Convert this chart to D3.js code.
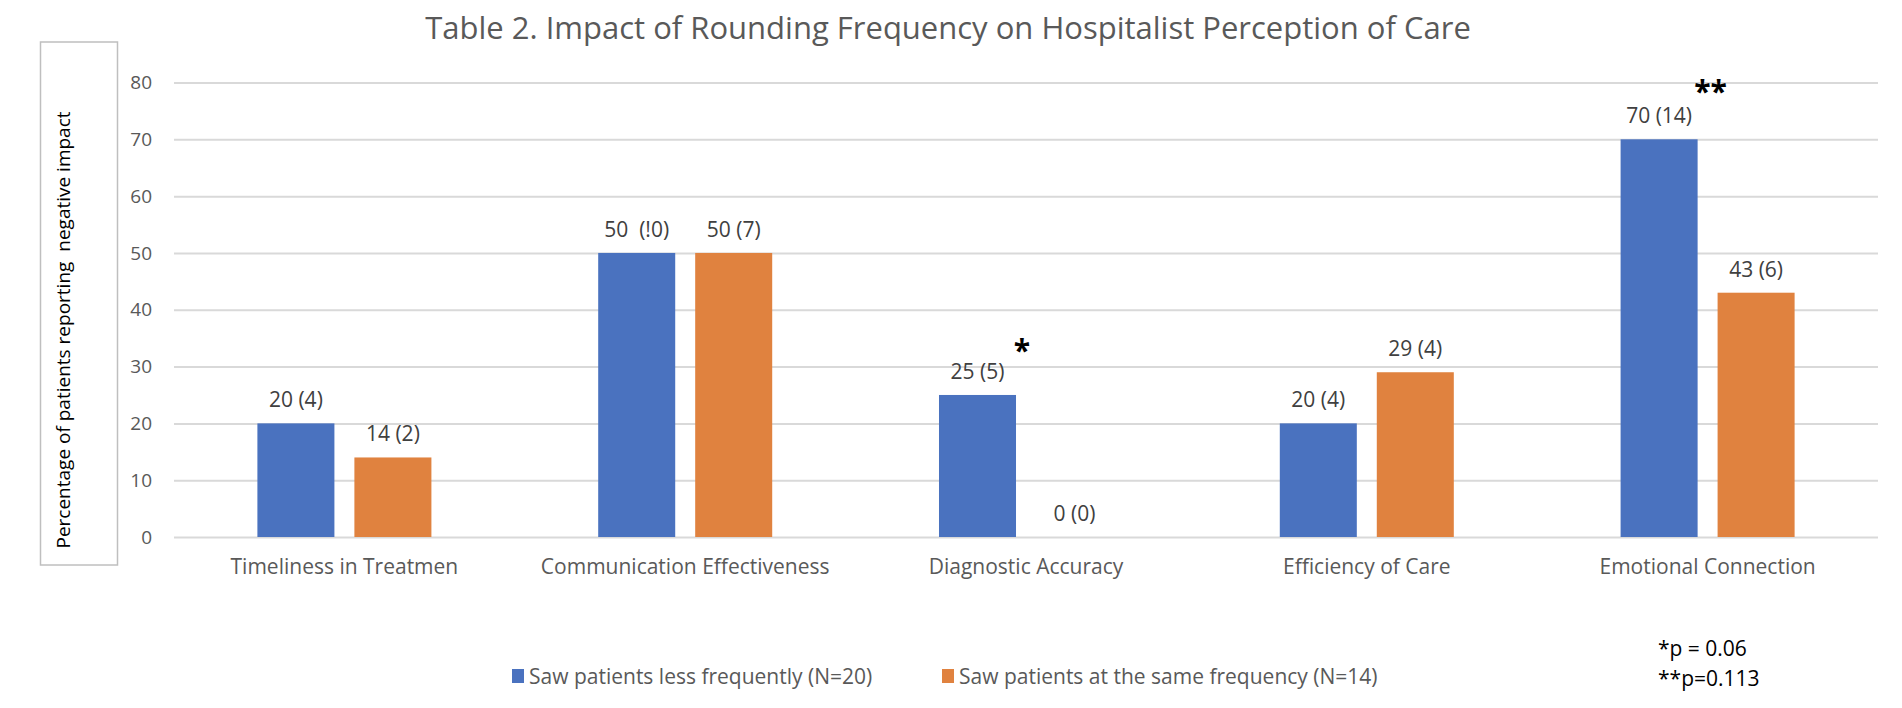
<!DOCTYPE html>
<html>
<head>
<meta charset="utf-8">
<script src="https://cdn.jsdelivr.net/npm/d3@7"></script>
<style>
  body { margin: 0; background: #fff; }
  text { font-family: "Open Sans", sans-serif; }
</style>
</head>
<body>
<div id="chart"></div>
<script>
const categories = ["Timeliness in Treatmen", "Communication Effectiveness", "Diagnostic Accuracy", "Efficiency of Care", "Emotional Connection"]
const series = ["Saw patients less frequently (N=20)", "Saw patients at the same frequency (N=14)"]
const lessValues = [20, 50, 25, 20, 70]
const sameValues = [14, 50, 0, 29, 43]
const lessLabels = ["20 (4)", "50  (!0)", "25 (5)", "20 (4)", "70 (14)"]
const sameLabels = ["14 (2)", "50 (7)", "0 (0)", "29 (4)", "43 (6)"]
const stars = [null, null, "*", null, "**"]
const yTicks = [0, 10, 20, 30, 40, 50, 60, 70, 80]
const notes = ["*p = 0.06", "**p=0.113"]
const colors = ["#4A72BF", "#E0823F"]

const width = 1902, height = 708
const plot = { left: 174, right: 1878, top: 82.5, bottom: 537 }

const svg = d3.select("#chart").append("svg")
  .attr("width", width)
  .attr("height", height)

const x0 = d3.scaleBand()
  .domain(categories)
  .range([plot.left, plot.right])
  .paddingInner(0.4894)
  .paddingOuter(0.2447)

const x1 = d3.scaleBand()
  .domain(series)
  .range([0, x0.bandwidth()])
  .paddingInner(0.206)

const y = d3.scaleLinear()
  .domain([0, 80])
  .range([plot.bottom, plot.top])

// title
svg.append("text")
  .attr("x", 948)
  .attr("y", 39)
  .attr("text-anchor", "middle")
  .style("font-size", "31px")
  .style("fill", "#595959")
  .text("Table 2. Impact of Rounding Frequency on Hospitalist Perception of Care")

// gridlines + y axis
const yAxis = d3.axisLeft(y)
  .tickValues(yTicks)
  .tickSize(-(plot.right - plot.left))
  .tickPadding(22)

const gy = svg.append("g")
  .attr("transform", `translate(${plot.left},0)`)
  .call(yAxis)
gy.select(".domain").remove()
gy.selectAll(".tick line").attr("stroke", "#d9d9d9").attr("stroke-width", 2)
gy.selectAll(".tick text")
  .style("font-size", "19px")
  .style("fill", "#595959")
  .style("font-family", "Open Sans, sans-serif")

// y title box
svg.append("rect")
  .attr("x", 40.5).attr("y", 42)
  .attr("width", 77).attr("height", 523)
  .attr("fill", "none")
  .attr("stroke", "#bfbfbf")
  .attr("stroke-width", 1.5)

svg.append("text")
  .attr("transform", "translate(70,330) rotate(-90)")
  .attr("text-anchor", "middle")
  .style("font-size", "19px")
  .style("fill", "#000")
  .style("white-space", "pre")
  .text("Percentage of patients reporting  negative impact")

// bars
const rows = categories.map((c, i) => ({
  cat: c,
  vals: [
    { s: series[0], v: lessValues[i], label: lessLabels[i], color: colors[0] },
    { s: series[1], v: sameValues[i], label: sameLabels[i], color: colors[1] }
  ],
  star: stars[i]
}))

const group = svg.selectAll(".group")
  .data(rows)
  .enter().append("g")
  .attr("class", "group")
  .attr("transform", d => `translate(${x0(d.cat)},0)`)

group.selectAll("rect")
  .data(d => d.vals)
  .enter().append("rect")
  .attr("x", d => x1(d.s))
  .attr("y", d => y(d.v))
  .attr("width", x1.bandwidth())
  .attr("height", d => y(0) - y(d.v))
  .attr("fill", d => d.color)

group.selectAll(".lbl")
  .data(d => d.vals)
  .enter().append("text")
  .attr("class", "lbl")
  .attr("x", d => x1(d.s) + x1.bandwidth() / 2)
  .attr("y", d => y(d.v) - 16)
  .attr("text-anchor", "middle")
  .style("font-size", "21px")
  .style("fill", "#404040")
  .style("white-space", "pre")
  .text(d => d.label)

// significance stars
group.filter(d => d.star)
  .append("text")
  .attr("x", d => x1(series[0]) + x1.bandwidth() + (d.star.length > 1 ? 13 : 6))
  .attr("y", d => d.star.length > 1 ? 102 : 361)
  .attr("text-anchor", "middle")
  .style("font-size", "30px")
  .style("font-weight", "bold")
  .style("fill", "#000")
  .text(d => d.star)

// x labels
svg.selectAll(".xlab")
  .data(categories)
  .enter().append("text")
  .attr("class", "xlab")
  .attr("x", d => x0(d) + x0.bandwidth() / 2)
  .attr("y", 574)
  .attr("text-anchor", "middle")
  .style("font-size", "21px")
  .style("fill", "#595959")
  .text(d => d)

// legend
const legendX = [512, 942]
const legend = svg.selectAll(".leg")
  .data(series)
  .enter().append("g")
  .attr("class", "leg")
  .attr("transform", (d, i) => `translate(${legendX[i]},676)`)

legend.append("rect")
  .attr("x", 0).attr("y", -7)
  .attr("width", 12).attr("height", 14)
  .attr("fill", (d, i) => colors[i])

legend.append("text")
  .attr("x", 17)
  .attr("y", 8)
  .style("font-size", "21px")
  .style("fill", "#595959")
  .text(d => d)

// p-value notes
svg.selectAll(".note")
  .data(notes)
  .enter().append("text")
  .attr("class", "note")
  .attr("x", 1658)
  .attr("y", (d, i) => 656 + i * 30)
  .style("font-size", "21px")
  .style("fill", "#000")
  .text(d => d)
</script>
</body>
</html>
